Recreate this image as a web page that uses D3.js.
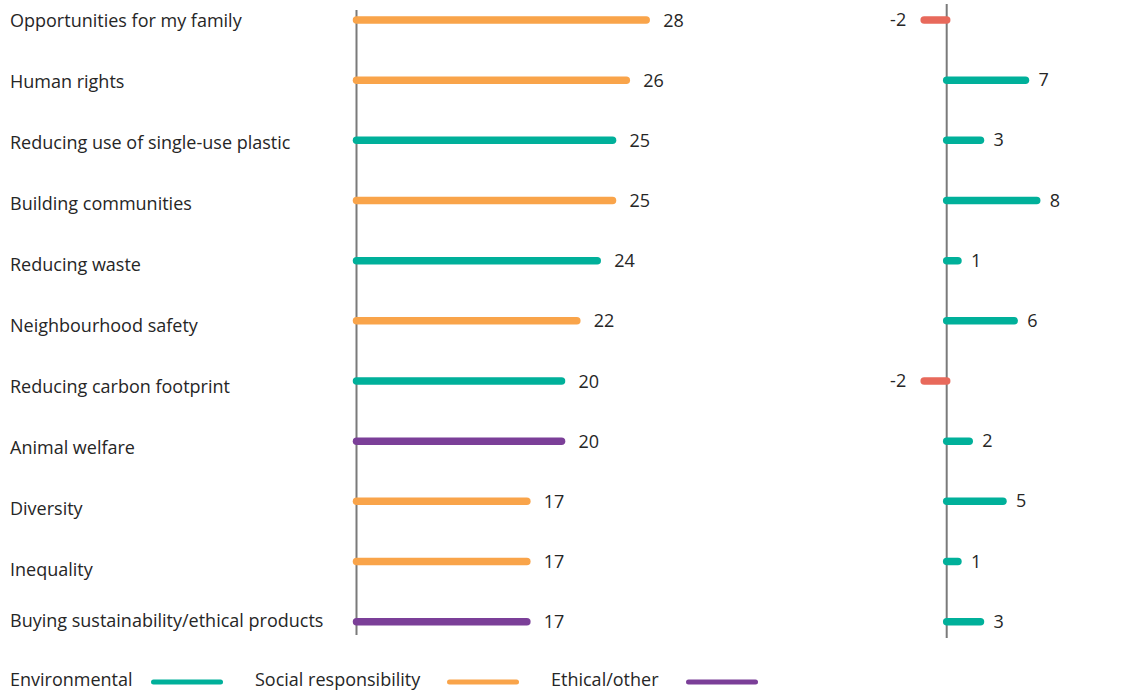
<!DOCTYPE html>
<html>
<head>
<meta charset="utf-8">
<script src="https://cdn.jsdelivr.net/npm/d3@7"></script>
<style>
  html, body { margin: 0; padding: 0; background: #fff; }
  svg { display: block; font-family: "Open Sans", "Noto Sans", sans-serif; }
</style>
</head>
<body>
<svg id="chart" width="1136" height="690"></svg>
<script>
// ---- data ----
const categories = [
  "Opportunities for my family",
  "Human rights",
  "Reducing use of single-use plastic",
  "Building communities",
  "Reducing waste",
  "Neighbourhood safety",
  "Reducing carbon footprint",
  "Animal welfare",
  "Diversity",
  "Inequality",
  "Buying sustainability/ethical products"
];
const groups = [
  "Social responsibility", "Social responsibility", "Environmental",
  "Social responsibility", "Environmental", "Social responsibility",
  "Environmental", "Ethical/other", "Social responsibility",
  "Social responsibility", "Ethical/other"
];
// main score (bar length; labels are rounded)
const scores = [28.4, 26.45, 25.1, 25.1, 23.6, 21.6, 20.1, 20.1, 16.7, 16.7, 16.7];
// change
const changes = [-2, 7, 3, 8, 1, 6, -2, 2, 5, 1, 3];
const legendNames = ["Environmental", "Social responsibility", "Ethical/other"];
const legendColors = ["#00B09A", "#F9A44A", "#7B3F98"];
const negativeColor = "#E8695B";

// ---- layout ----
const svg = d3.select("#chart");
const textColor = "#262626";
const fontSize = 18;
const color = d3.scaleOrdinal().domain(legendNames).range(legendColors);

const y = d3.scalePoint().domain(categories).range([20, 621.7]);
const xL = d3.scaleLinear().domain([0, 30]).range([356.5, 356.5 + 306]);
const xR = d3.scaleLinear().domain([0, 10]).range([946.7, 946.7 + 112.5]);
const fmt = d3.formatLocale({decimal: ".", thousands: ",", grouping: [3], currency: ["", ""], minus: "-"}).format(".0f");

// category labels (slightly looser spacing than the bars, clamped at bottom)
const labelY = d3.scaleLinear().domain([0, 9]).range([26.7, 576]);
svg.append("g").selectAll("text").data(categories).join("text")
  .attr("x", 10)
  .attr("y", (d, i) => Math.min(labelY(i), 627))
  .attr("fill", textColor)
  .attr("font-size", fontSize)
  .text(d => d);

// axis lines
svg.append("line").attr("x1", xL(0)).attr("x2", xL(0)).attr("y1", 10).attr("y2", 635)
  .attr("stroke", "#7a7a7a").attr("stroke-width", 2);
svg.append("line").attr("x1", xR(0)).attr("x2", xR(0)).attr("y1", 4).attr("y2", 638)
  .attr("stroke", "#7a7a7a").attr("stroke-width", 2);

// left bars
const rowsL = svg.append("g").selectAll("g").data(categories).join("g");
rowsL.append("line")
  .attr("x1", xL(0))
  .attr("x2", (d, i) => xL(scores[i]))
  .attr("y1", d => y(d)).attr("y2", d => y(d))
  .attr("stroke", (d, i) => color(groups[i]))
  .attr("stroke-width", 7.5)
  .attr("stroke-linecap", "round");
rowsL.append("text")
  .attr("x", (d, i) => xL(scores[i]) + 17)
  .attr("y", d => y(d) + 6.5)
  .attr("fill", textColor)
  .attr("font-size", fontSize)
  .text((d, i) => fmt(scores[i]));

// right bars
const rowsR = svg.append("g").selectAll("g").data(categories).join("g");
rowsR.append("line")
  .attr("x1", xR(0))
  .attr("x2", (d, i) => xR(changes[i]))
  .attr("y1", d => y(d)).attr("y2", d => y(d))
  .attr("stroke", (d, i) => changes[i] < 0 ? negativeColor : legendColors[0])
  .attr("stroke-width", 7.5)
  .attr("stroke-linecap", "round");
rowsR.append("text")
  .attr("x", (d, i) => changes[i] < 0 ? xR(changes[i]) - 18 : xR(changes[i]) + 13)
  .attr("y", d => y(d) + 6)
  .attr("text-anchor", (d, i) => changes[i] < 0 ? "end" : "start")
  .attr("fill", textColor)
  .attr("font-size", fontSize)
  .text((d, i) => fmt(changes[i]));

// legend
const legTextX = [10, 255, 551];
const legLineX = [153.5, 449.5, 688.5];
const leg = svg.append("g").selectAll("g").data(legendNames).join("g");
leg.append("text")
  .attr("x", (d, i) => legTextX[i]).attr("y", 686)
  .attr("fill", textColor).attr("font-size", fontSize)
  .text(d => d);
leg.append("line")
  .attr("x1", (d, i) => legLineX[i]).attr("x2", (d, i) => legLineX[i] + 67)
  .attr("y1", 682).attr("y2", 682)
  .attr("stroke", d => color(d)).attr("stroke-width", 5)
  .attr("stroke-linecap", "round");
</script>
</body>
</html>
